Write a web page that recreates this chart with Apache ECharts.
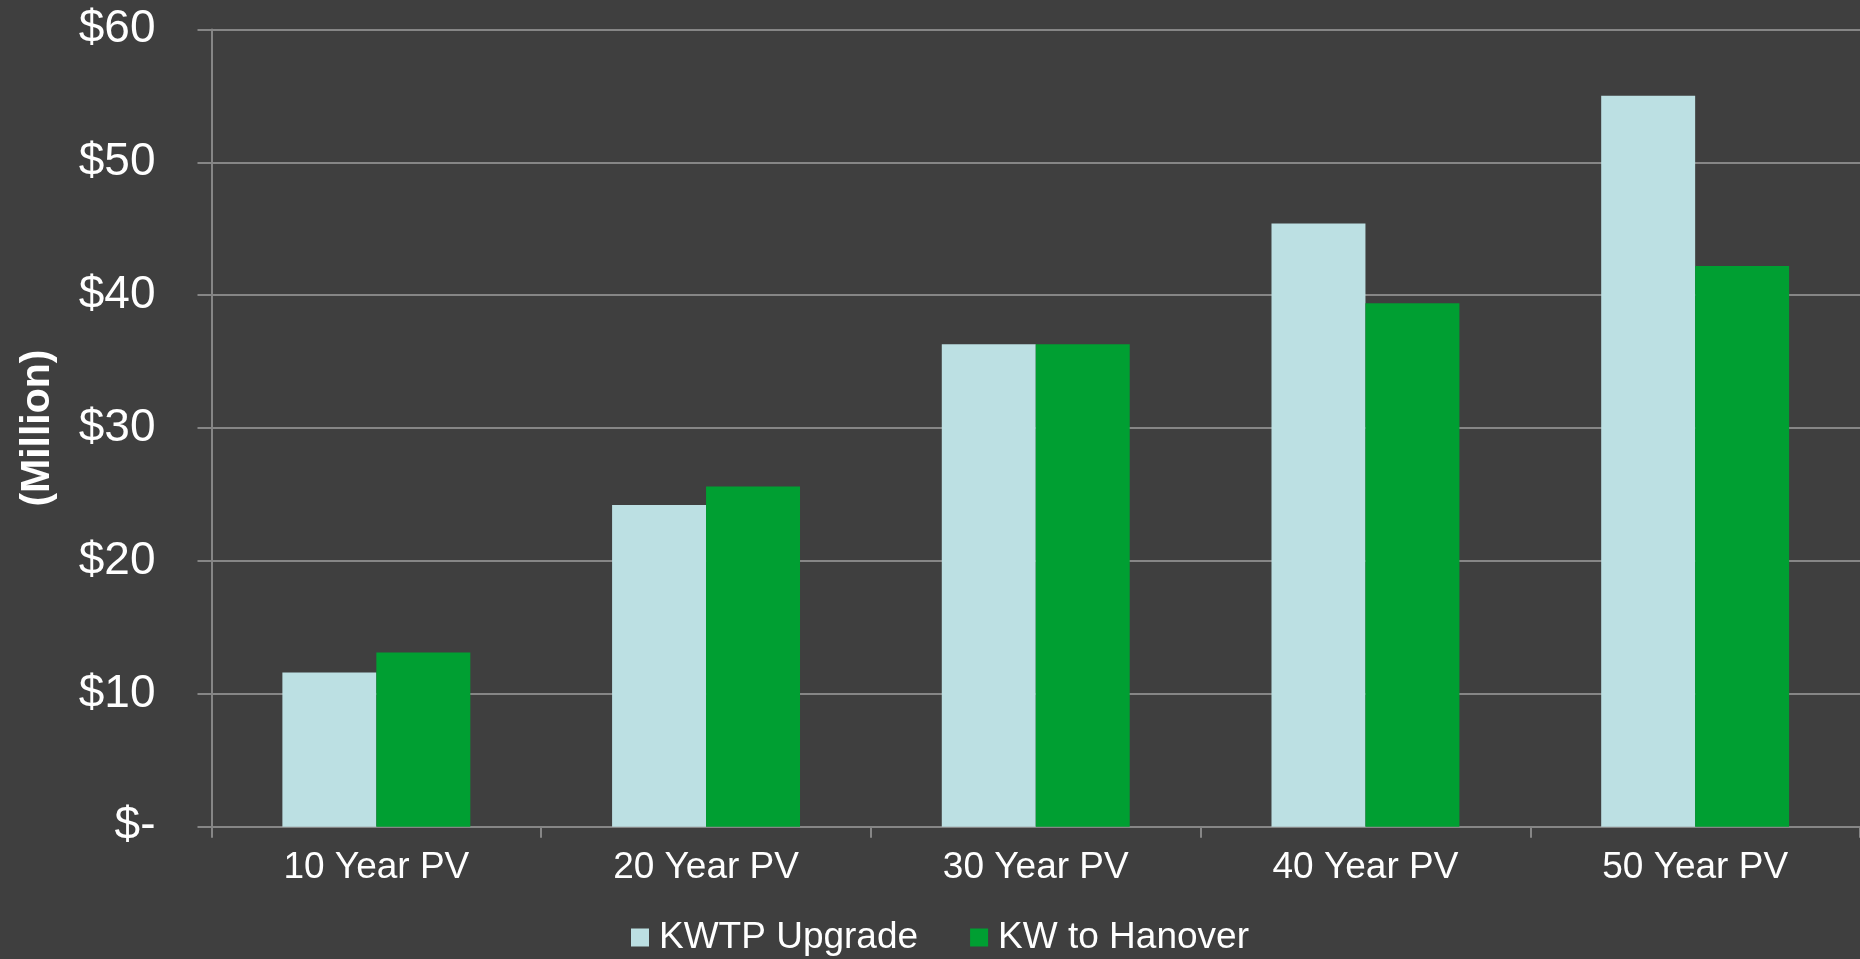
<!DOCTYPE html>
<html>
<head>
<meta charset="utf-8">
<script src="https://cdn.jsdelivr.net/npm/echarts@6/dist/echarts.min.js"></script>
<style>
  html, body { margin: 0; padding: 0; background: #3f3f3f; }
  #chart { width: 1860px; height: 959px; }
</style>
</head>
<body>
<div id="chart"></div>
<script>
// Present value comparison, in millions of dollars
const categories = ['10 Year PV', '20 Year PV', '30 Year PV', '40 Year PV', '50 Year PV'];
const seriesNames = ['KWTP Upgrade', 'KW to Hanover'];
const kwtpUpgrade = [11.6, 24.2, 36.3, 45.4, 55.0];
const kwToHanover = [13.1, 25.6, 36.3, 39.4, 42.2];
const yTicks = [0, 10, 20, 30, 40, 50, 60];

const lineColor = '#868686';
const fontFamily = '"Liberation Sans", Arial, sans-serif';

const chart = echarts.init(document.getElementById('chart'), null, { renderer: 'canvas' });

chart.setOption({
  backgroundColor: '#3f3f3f',
  animation: false,
  textStyle: { fontFamily: fontFamily, color: '#ffffff' },
  // plot area runs slightly past the right edge of the canvas
  grid: { left: 211.5, top: 29.4, right: -9, height: 797.3, containLabel: false },
  legend: {
    data: seriesNames,
    left: 626,
    top: 914,
    icon: 'rect',
    itemWidth: 18,
    itemHeight: 18,
    itemGap: 52,
    textStyle: { color: '#ffffff', fontSize: 37, fontFamily: fontFamily, padding: [0, 0, 0, 5] }
  },
  xAxis: {
    type: 'category',
    data: categories,
    axisLine: { show: true, lineStyle: { color: lineColor, width: 2 } },
    axisTick: { show: true, alignWithLabel: false, length: 11, lineStyle: { color: lineColor, width: 2 } },
    axisLabel: { color: '#ffffff', fontSize: 37, margin: 23, fontFamily: fontFamily, interval: 0 },
    splitLine: { show: false }
  },
  yAxis: {
    type: 'value',
    min: yTicks[0],
    max: yTicks[yTicks.length - 1],
    interval: yTicks[1] - yTicks[0],
    name: '(Million)',
    nameLocation: 'middle',
    nameGap: 153,
    nameTextStyle: { color: '#ffffff', fontSize: 41, fontWeight: 'bold', fontFamily: fontFamily },
    axisLine: { show: true, lineStyle: { color: lineColor, width: 2 } },
    axisTick: { show: true, length: 14, lineStyle: { color: lineColor, width: 2 } },
    axisLabel: {
      color: '#ffffff',
      fontSize: 46,
      margin: 56,
      fontFamily: fontFamily,
      formatter: v => v === 0 ? '$-' : '$' + v
    },
    splitLine: { show: true, lineStyle: { color: lineColor, width: 2 } }
  },
  series: [
    {
      name: seriesNames[0],
      type: 'bar',
      data: kwtpUpgrade,
      barGap: '0%',
      barCategoryGap: '43%',
      itemStyle: { color: '#bce0e3' }
    },
    {
      name: seriesNames[1],
      type: 'bar',
      data: kwToHanover,
      barGap: '0%',
      barCategoryGap: '43%',
      itemStyle: { color: '#009f32' }
    }
  ]
});
</script>
</body>
</html>
